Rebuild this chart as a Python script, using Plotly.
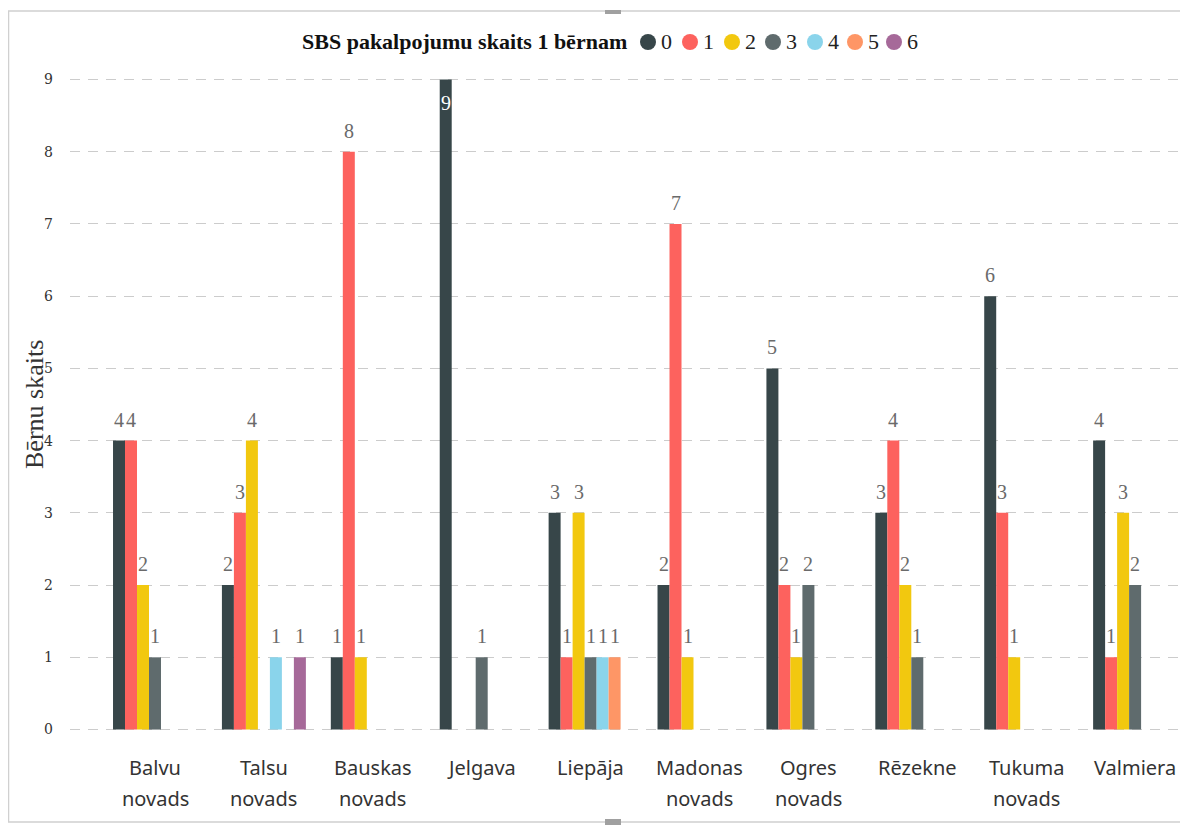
import plotly.graph_objects as go

categories = ["Balvu novads", "Talsu novads", "Bauskas novads", "Jelgava", "Liepāja",
              "Madonas novads", "Ogres novads", "Rēzekne", "Tukuma novads", "Valmiera"]
series_names = ["0", "1", "2", "3", "4", "5", "6"]
s0 = [4, 2, 1, 9, 3, 2, 5, 3, 6, 4]
s1 = [4, 3, 8, 0, 1, 7, 2, 4, 3, 1]
s2 = [2, 4, 1, 0, 3, 1, 1, 2, 1, 3]
s3 = [1, 0, 0, 1, 1, 0, 2, 1, 0, 2]
s4 = [0, 1, 0, 0, 1, 0, 0, 0, 0, 0]
s5 = [0, 0, 0, 0, 1, 0, 0, 0, 0, 0]
s6 = [0, 1, 0, 0, 0, 0, 0, 0, 0, 0]
series_values = [s0, s1, s2, s3, s4, s5, s6]
colors = ["#374649", "#FD625E", "#F2C80F", "#5F6B6D", "#8AD4EB", "#FE9666", "#A66999"]
y_ticks = [0, 1, 2, 3, 4, 5, 6, 7, 8, 9]
legend_title = "SBS pakalpojumu skaits 1 bērnam"
y_title = "Bērnu skaits"

# page is offset by 8px body margin; work in reference px minus 8
OFF = 8
W, H = 1188 - OFF, 832 - OFF
ymax = max(y_ticks)
EXT = 0.02
UNIT = (730 - 79) / ymax
ML, MR = 70 - OFF, 8
MT = round(79 - EXT * UNIT) - OFF
MB = round(832 - (730 + EXT * UNIT))
PW, PH = W - ML - MR, H - MT - MB
C0, STEP = 155 - OFF, 108.9
BARGAP = 0.229
NS = len(series_names)


def px2x(px):
    return (px - OFF - ML) / PW


def px2y(py):
    return 1 - (py - OFF - MT) / PH


fig = go.Figure()
annotations = []
grp = 1 - BARGAP
for k, (name, vals, col) in enumerate(zip(series_names, series_values, colors)):
    fig.add_trace(go.Bar(
        x=list(range(len(categories))), y=vals, name=name, marker_color=col,
        marker_line_width=0, showlegend=False, hoverinfo="x+y+name"))
    off = -grp / 2 + (k + 0.5) * grp / NS
    for i, v in enumerate(vals):
        if not v:
            continue
        inside = v >= ymax
        annotations.append(dict(
            x=i + off, y=v, xref="x", yref="y", text=str(v), showarrow=False,
            xanchor="center", yanchor="middle", yshift=-24 if inside else 21,
            font=dict(family="Liberation Serif", size=20,
                      color="white" if inside else "#6a6a6a")))

for i, c in enumerate(categories):
    parts = c.split(" ")
    ys = [767, 798]
    for j, p in enumerate(parts):
        annotations.append(dict(x=i, y=px2y(ys[j]), xref="x", yref="paper", text=p,
                                showarrow=False, xanchor="center", yanchor="middle",
                                font=dict(family="Noto Sans", size=20, color="#333333")))
annotations.append(dict(x=px2x(35), y=px2y(405), xref="paper", yref="paper", text=y_title,
                        textangle=-90, showarrow=False, xanchor="center", yanchor="middle",
                        font=dict(family="Liberation Serif", size=26, color="#333333")))

# custom legend
annotations.append(dict(x=px2x(629), y=px2y(42), xref="paper", yref="paper",
                        text="<b>" + legend_title + "</b>", showarrow=False,
                        xanchor="right", yanchor="middle",
                        font=dict(family="Liberation Serif", size=22, color="#111111")))
circle_x = [648, 690, 732, 773, 815, 855, 894]
shapes = [
    dict(type="rect", xref="paper", yref="paper", x0=px2x(8.5), x1=px2x(1185),
         y0=px2y(822), y1=px2y(11), line=dict(color="#d0d0d0", width=1.5), layer="below"),
    dict(type="rect", xref="paper", yref="paper", x0=px2x(605), x1=px2x(621),
         y0=px2y(14), y1=px2y(10), fillcolor="#a0a0a0", line=dict(width=0)),
    dict(type="rect", xref="paper", yref="paper", x0=px2x(605), x1=px2x(621),
         y0=px2y(825), y1=px2y(819), fillcolor="#a0a0a0", line=dict(width=0)),
]
for name, col, cx in zip(series_names, colors, circle_x):
    shapes.append(dict(type="circle", xref="paper", yref="paper",
                       xsizemode="pixel", ysizemode="pixel",
                       xanchor=px2x(cx), yanchor=px2y(42),
                       x0=-8, x1=8, y0=-8, y1=8, fillcolor=col, line=dict(width=0)))
    annotations.append(dict(x=px2x(cx + 11), y=px2y(42), xref="paper", yref="paper",
                            text=name, showarrow=False, xanchor="left", yanchor="middle",
                            font=dict(family="Liberation Serif", size=22, color="#222222")))

fig.update_layout(
    width=W, height=H, margin=dict(l=ML, r=MR, t=MT, b=MB),
    paper_bgcolor="white", plot_bgcolor="white",
    barmode="group", bargap=BARGAP, bargroupgap=0, showlegend=False,
    xaxis=dict(range=[(ML - C0) / STEP, (W - MR - C0) / STEP], showticklabels=False,
               showgrid=False, zeroline=False, showline=False, fixedrange=True),
    yaxis=dict(range=[-EXT, ymax + EXT], tickvals=y_ticks, showgrid=True, gridcolor="#cccccc",
               griddash="10px,8px", gridwidth=1, zeroline=False, showline=False,
               ticklabelstandoff=16,
               tickfont=dict(family="DejaVu Serif", size=14, color="#333333")),
    annotations=annotations, shapes=shapes,
)

fig.write_html("out.html")
